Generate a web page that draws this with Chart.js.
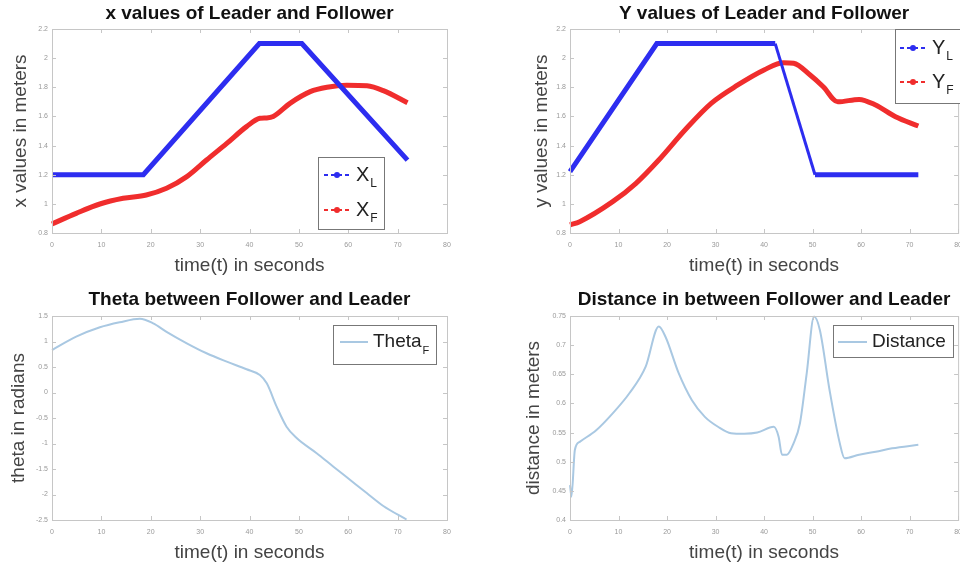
<!DOCTYPE html>
<html>
<head>
<meta charset="utf-8">
<script src="https://cdn.jsdelivr.net/npm/chart.js@4.4.0/dist/chart.umd.min.js"></script>
<style>
  html, body { margin: 0; padding: 0; background: #fff; overflow: hidden; width: 960px; height: 570px; }
  .p { position: absolute; }
</style>
</head>
<body>
<div class="p" style="left:0;top:0"><canvas id="c1" width="480" height="285"></canvas></div>
<div class="p" style="left:480px;top:0"><canvas id="c2" width="490" height="285"></canvas></div>
<div class="p" style="left:0;top:285px"><canvas id="c3" width="480" height="285"></canvas></div>
<div class="p" style="left:480px;top:285px"><canvas id="c4" width="490" height="285"></canvas></div>
<script>
const FONT = '"Liberation Sans", Arial, sans-serif';

// x values of leader / follower
const tXL = [0, 18.5, 42, 50.6, 72];
const xL  = [1.2, 1.2, 2.1, 2.1, 1.3];
const tXF = [0, 4.9, 9.7, 14.4, 19.1, 23.2, 27.3, 31.3, 35.4, 39.4, 42.1, 43.5, 44.8, 48.2, 52.3, 55.7, 59.7, 63.8, 67.1, 72];
const xF  = [0.862, 0.935, 0.999, 1.038, 1.061, 1.107, 1.187, 1.301, 1.415, 1.53, 1.587, 1.59, 1.6, 1.69, 1.77, 1.8, 1.814, 1.81, 1.777, 1.694];

// y values of leader / follower
const tYL = [0, 17.9, 42.3, 50.5, 71.8];
const yL  = [1.221, 2.1, 2.1, 1.2, 1.2];
const tYF = [0, 2, 8.8, 13.6, 18.3, 23.7, 29.1, 34.6, 40, 44, 46.1, 49.5, 52.2, 55.2, 59.6, 63, 67.1, 71.8];
const yF  = [0.855, 0.878, 1.015, 1.141, 1.301, 1.507, 1.69, 1.816, 1.919, 1.969, 1.965, 1.884, 1.804, 1.7, 1.717, 1.678, 1.598, 1.534];

// theta
const tTh = [0, 4.9, 9.7, 13.7, 17.8, 20.5, 23.2, 27.3, 31.3, 35.4, 39.4, 42.1, 43.5, 45.5, 47.5, 49.6, 53.6, 57, 60.4, 63.8, 67.1, 71.8];
const theta = [0.833, 1.094, 1.278, 1.376, 1.447, 1.356, 1.19, 0.965, 0.769, 0.604, 0.455, 0.343, 0.18, -0.278, -0.67, -0.898, -1.19, -1.455, -1.716, -1.977, -2.225, -2.49];

// distance
const tDi = [0, 0.3, 1, 2, 5.4, 8.8, 12.2, 15.6, 18.3, 19.7, 22.4, 25.1, 27.8, 30.5, 33.2, 35.9, 38.6, 42, 43, 43.7, 44.7, 46.1, 47.4, 48.8, 50.3, 51.5, 53.5, 55.6, 56.6, 59.6, 63, 66.4, 71.8];
const dist = [0.46, 0.44, 0.52, 0.534, 0.554, 0.583, 0.617, 0.663, 0.732, 0.714, 0.652, 0.606, 0.577, 0.56, 0.549, 0.548, 0.55, 0.56, 0.543, 0.512, 0.512, 0.532, 0.566, 0.652, 0.749, 0.726, 0.623, 0.532, 0.506, 0.512, 0.517, 0.523, 0.529];

const BLUE = 'rgb(45,45,240)';
const RED = 'rgb(240,45,45)';
const LIGHT = '#a9c8e2';

const pts = (t, v) => t.map((x, i) => ({ x: x, y: v[i] }));
const fmt = v => String(Math.round(v * 100) / 100);

// box, inner ticks, title and legend like matlab
const matlabAxes = {
  id: 'matlabAxes',
  afterDraw(chart, args, o) {
    const { ctx, chartArea: a, scales: { x, y } } = chart;
    ctx.save();
    ctx.strokeStyle = '#c6c6c6';
    ctx.lineWidth = 1;
    ctx.strokeRect(a.left + 0.5, a.top + 0.5, a.width, a.height);
    ctx.beginPath();
    x.ticks.forEach(t => {
      const px = Math.round(x.getPixelForValue(t.value)) + 0.5;
      ctx.moveTo(px, a.bottom); ctx.lineTo(px, a.bottom - 4);
      ctx.moveTo(px, a.top); ctx.lineTo(px, a.top + 4);
    });
    y.ticks.forEach(t => {
      const py = Math.round(y.getPixelForValue(t.value)) + 0.5;
      ctx.moveTo(a.left, py); ctx.lineTo(a.left + 4, py);
      ctx.moveTo(a.right, py); ctx.lineTo(a.right - 4, py);
    });
    ctx.stroke();

    ctx.fillStyle = '#111';
    ctx.font = 'bold 19px ' + FONT;
    ctx.textAlign = 'center';
    ctx.textBaseline = 'middle';
    ctx.fillText(o.title, (a.left + a.right) / 2, o.titleY);

    const L = o.legend;
    const bx = a.left + L.x, by = a.top + L.y;
    ctx.fillStyle = '#fff';
    ctx.fillRect(bx, by, L.w, L.h);
    ctx.strokeStyle = '#777';
    ctx.strokeRect(bx + 0.5, by + 0.5, L.w, L.h);
    L.items.forEach(it => {
      const ly = by + it.dy;
      ctx.strokeStyle = it.color;
      ctx.lineWidth = 2;
      if (it.marker) ctx.setLineDash([4, 3]);
      ctx.beginPath();
      ctx.moveTo(bx + L.l0, ly); ctx.lineTo(bx + L.l1, ly);
      ctx.stroke();
      ctx.setLineDash([]);
      if (it.marker) {
        const cx = bx + (L.l0 + L.l1) / 2;
        ctx.fillStyle = it.color;
        ctx.beginPath(); ctx.arc(cx, ly, 3, 0, Math.PI * 2); ctx.fill();
      }
      ctx.fillStyle = '#222';
      ctx.font = L.size + 'px ' + FONT;
      ctx.textAlign = 'left';
      ctx.textBaseline = 'middle';
      ctx.fillText(it.main, bx + L.tx, ly);
      if (it.sub) {
        const w = ctx.measureText(it.main).width;
        ctx.font = Math.round(L.size * 0.6) + 'px ' + FONT;
        ctx.fillText(it.sub, bx + L.tx + w + 1, ly + L.size * 0.45);
      }
    });
    ctx.restore();
  }
};

function makeChart(id, o) {
  return new Chart(document.getElementById(id), {
    type: 'line',
    data: {
      datasets: o.sets.map(s => ({
        data: s.data,
        borderColor: s.color,
        borderWidth: s.width,
        pointRadius: 0,
        fill: false,
        cubicInterpolationMode: s.smooth ? 'monotone' : 'default',
        tension: 0,
        clip: 3,
        segment: s.segment
      }))
    },
    options: {
      responsive: false,
      animation: false,
      devicePixelRatio: 1,
      layout: { padding: { top: o.top, right: o.right, left: 0, bottom: 0 } },
      plugins: {
        legend: { display: false },
        tooltip: { enabled: false },
        matlabAxes: { title: o.title, titleY: o.titleY, legend: o.legend }
      },
      scales: {
        x: {
          type: 'linear', min: 0, max: 80,
          grid: { display: false, drawTicks: false },
          border: { display: false },
          ticks: { stepSize: 10, autoSkip: false, maxRotation: 0, padding: 8, color: '#999', font: { size: 7, family: FONT }, callback: fmt },
          title: { display: true, text: 'time(t) in seconds', color: '#444', font: { size: 19, family: FONT }, padding: { top: 0, bottom: o.xtPad } },
          afterFit: s => { s.height = o.xh; }
        },
        y: {
          min: o.ymin, max: o.ymax,
          grid: { display: false, drawTicks: false },
          border: { display: false },
          ticks: { stepSize: o.ystep, autoSkip: false, padding: 4, color: '#999', font: { size: 7, family: FONT }, callback: fmt },
          title: { display: true, text: o.ytitle, color: '#444', font: { size: 19, family: FONT }, padding: { top: o.ytPad, bottom: 0 } },
          afterFit: s => { s.width = o.yw; }
        }
      }
    },
    plugins: [matlabAxes]
  });
}

makeChart('c1', {
  top: 29, right: 33, xh: 52, yw: 52, xtPad: 8, ytPad: 9,
  ymin: 0.8, ymax: 2.2, ystep: 0.2, ytitle: 'x values in meters',
  title: 'x values of Leader and Follower', titleY: 14,
  sets: [
    { data: pts(tXL, xL), color: BLUE, width: 5 },
    { data: pts(tXF, xF), color: RED, width: 5, smooth: true }
  ],
  legend: { x: 266, y: 128, w: 66, h: 72, l0: 6, l1: 32, tx: 38, size: 20,
    items: [{ dy: 18, color: BLUE, marker: true, main: 'X', sub: 'L' },
            { dy: 53, color: RED, marker: true, main: 'X', sub: 'F' }] }
});

makeChart('c2', {
  top: 29, right: 8, xh: 52, yw: 90, xtPad: 8, ytPad: 50,
  ymin: 0.8, ymax: 2.2, ystep: 0.2, ytitle: 'y values in meters',
  title: 'Y values of Leader and Follower', titleY: 14,
  sets: [
    // the steep drop has sparse markers, so it looks thinner
    { data: pts(tYL, yL), color: BLUE, width: 5,
      segment: { borderWidth: c => (c.p0.parsed.x > 42 && c.p1.parsed.x < 51 ? 3 : 5) } },
    { data: pts(tYF, yF), color: RED, width: 5, smooth: true }
  ],
  legend: { x: 325, y: 0, w: 80, h: 74, l0: 5, l1: 31, tx: 37, size: 20,
    items: [{ dy: 19, color: BLUE, marker: true, main: 'Y', sub: 'L' },
            { dy: 53, color: RED, marker: true, main: 'Y', sub: 'F' }] }
});

makeChart('c3', {
  top: 31, right: 33, xh: 50, yw: 52, xtPad: 6, ytPad: 7,
  ymin: -2.5, ymax: 1.5, ystep: 0.5, ytitle: 'theta in radians',
  title: 'Theta between Follower and Leader', titleY: 15,
  sets: [{ data: pts(tTh, theta), color: LIGHT, width: 2, smooth: true }],
  legend: { x: 281, y: 9, w: 103, h: 39, l0: 7, l1: 35, tx: 40, size: 19,
    items: [{ dy: 17, color: LIGHT, main: 'Theta', sub: 'F' }] }
});

makeChart('c4', {
  top: 31, right: 8, xh: 50, yw: 90, xtPad: 6, ytPad: 42,
  ymin: 0.4, ymax: 0.75, ystep: 0.05, ytitle: 'distance in meters',
  title: 'Distance in between Follower and Leader', titleY: 15,
  sets: [{ data: pts(tDi, dist), color: LIGHT, width: 2, smooth: true }],
  legend: { x: 263, y: 9, w: 120, h: 32, l0: 5, l1: 34, tx: 39, size: 19,
    items: [{ dy: 17, color: LIGHT, main: 'Distance' }] }
});
</script>
</body>
</html>
